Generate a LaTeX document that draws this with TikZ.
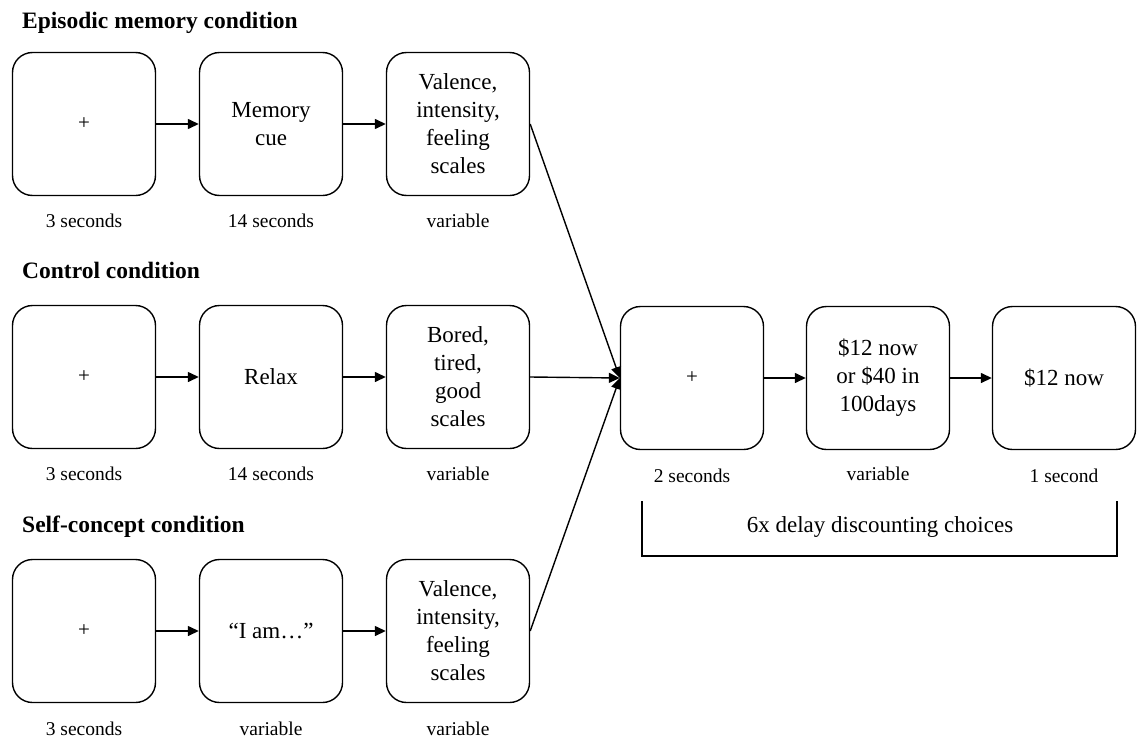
\documentclass[tikz,border=0pt]{standalone}
\usepackage{fontspec}
\setmainfont{Liberation Serif}
\usetikzlibrary{arrows.meta}
\begin{document}
\begin{tikzpicture}[x=1pt,y=-1pt,
  box/.style={draw, line width=1.4pt, rounded corners=20pt, minimum width=143pt, minimum height=143pt, align=center, inner sep=0pt, font=\fontsize{23}{28}\selectfont},
  lbl/.style={font=\fontsize{19.5}{23}\selectfont, inner sep=0pt, anchor=base},
  ttl/.style={font=\fontsize{23.5}{28}\selectfont\bfseries, anchor=base west, inner sep=0pt},
  arr/.style={-{Triangle[length=11pt,width=10pt]}, line width=1.4pt},
  plus/.style={font=\fontsize{21}{24}\selectfont}]
\useasboundingbox (0,0) rectangle (1137,739);

% titles
\node[ttl] (t1) at (22,28) {Episodic memory condition};
\node[ttl] (t2) at (22,278) {Control condition};
\node[ttl] (t3) at (22,532) {Self-concept condition};

% row 1
\node[box] (a1) at (84,124) {\fontsize{21}{24}\selectfont +};
\node[box] (a2) at (271,124) {Memory\\cue};
\node[box] (a3) at (458,124) {Valence,\\intensity,\\feeling\\scales};
\node[lbl] (la1) at (84,227) {3 seconds};
\node[lbl] (la2) at (271,227) {14 seconds};
\node[lbl] (la3) at (458,227) {variable};

% row 2
\node[box] (b1) at (84,377) {\fontsize{21}{24}\selectfont +};
\node[box] (b2) at (271,377) {Relax};
\node[box] (b3) at (458,377) {Bored,\\tired,\\good\\scales};
\node[lbl] (lb1) at (84,480) {3 seconds};
\node[lbl] (lb2) at (271,480) {14 seconds};
\node[lbl] (lb3) at (458,480) {variable};

% row 3
\node[box] (c1) at (84,631) {\fontsize{21}{24}\selectfont +};
\node[box] (c2) at (271,631) {“I am…”};
\node[box] (c3) at (458,631) {Valence,\\intensity,\\feeling\\scales};
\node[lbl] (lc1) at (84,735) {3 seconds};
\node[lbl] (lc2) at (271,735) {variable};
\node[lbl] (lc3) at (458,735) {variable};

% right side
\node[box] (d1) at (692,378) {\fontsize{21}{24}\selectfont +};
\node[box] (d2) at (878,378) {\$12 now\\or \$40 in\\100days};
\node[box] (d3) at (1064,378) {\$12 now};
\node[lbl] (ld1) at (692,482) {2 seconds};
\node[lbl] (ld2) at (878,480) {variable};
\node[lbl] (ld3) at (1064,482) {1 second};

% arrows
\draw[arr] (a1) -- (a2);
\draw[arr] (a2) -- (a3);
\draw[arr] (b1) -- (b2);
\draw[arr] (b2) -- (b3);
\draw[arr] (c1) -- (c2);
\draw[arr] (c2) -- (c3);
\draw[arr] (a3.east) -- (d1.west);
\draw[arr] (b3.east) -- (d1.west);
\draw[arr] (c3.east) -- (d1.west);
\draw[arr] (d1) -- (d2);
\draw[arr] (d2) -- (d3);

% bracket
\draw[line width=1.4pt] (642,501) -- (642,556) -- (1117,556) -- (1117,501);
\node[font=\fontsize{23}{28}\selectfont, anchor=base, inner sep=0pt] (br) at (880,532) {6x delay discounting choices};
\end{tikzpicture}
\end{document}
